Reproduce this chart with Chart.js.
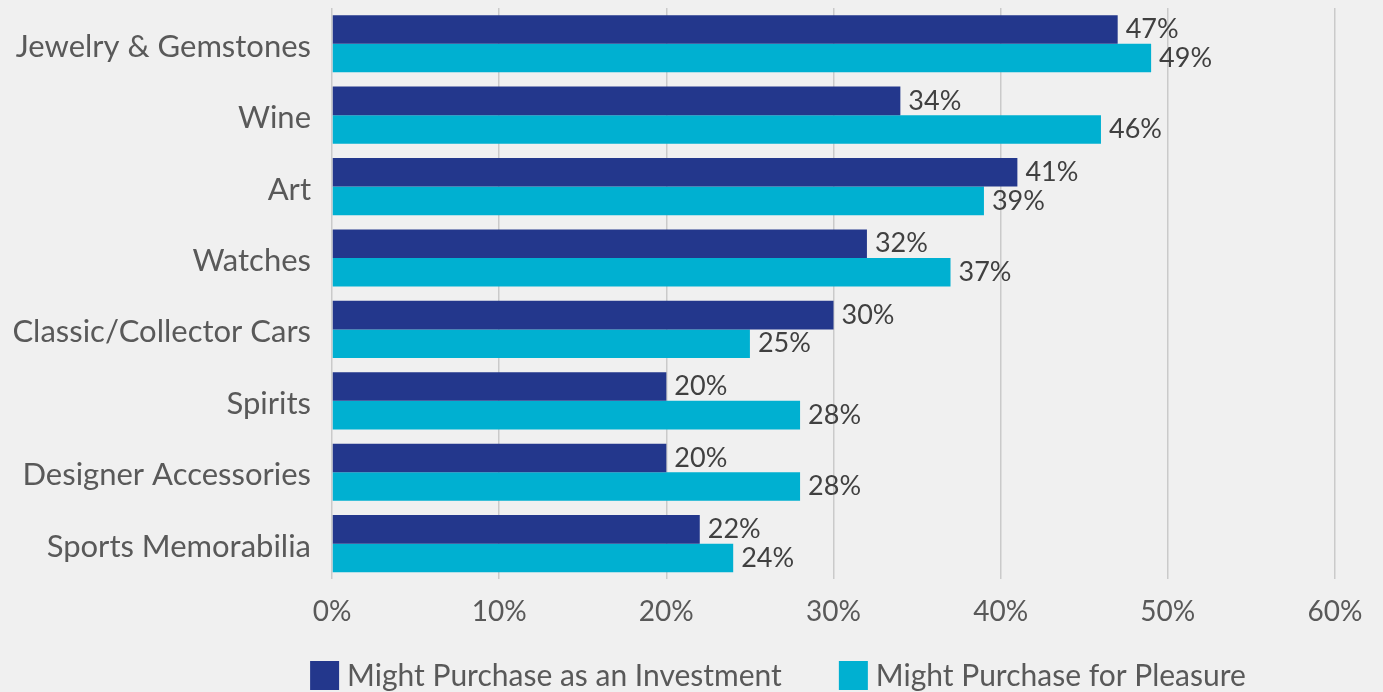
<!DOCTYPE html>
<html>
<head>
    <title>Purchase Intent</title>
    <style>
        * { margin: 0; padding: 0; box-sizing: border-box; }
        body { background: #f0f0f0; font-family: Lato, sans-serif; }
        .wrap { width: 1383px; height: 692px; position: relative; }
    </style>
</head>
<body>
    <div class="wrap">
        <canvas id="purchaseChart"></canvas>
    </div>
    <script src="https://cdn.jsdelivr.net/npm/chart.js"></script>
    <script>
        // dados
        var categories = ['Jewelry & Gemstones', 'Wine', 'Art', 'Watches', 'Classic/Collector Cars', 'Spirits', 'Designer Accessories', 'Sports Memorabilia'];
        var investment = [47, 34, 41, 32, 30, 20, 20, 22];
        var pleasure = [49, 46, 39, 37, 25, 28, 28, 24];
        var seriesNames = ['Might Purchase as an Investment', 'Might Purchase for Pleasure'];
        var xTicks = [0, 10, 20, 30, 40, 50, 60];

        var navy = '#23378c';
        var cyan = '#00b0d1';

        // rótulos de valor à direita das barras
        var barLabels = {
            id: 'barLabels',
            afterDatasetsDraw: function (chart) {
                var ctx = chart.ctx;
                ctx.save();
                ctx.font = '27px Lato';
                ctx.fillStyle = '#404040';
                ctx.textAlign = 'left';
                ctx.textBaseline = 'middle';
                chart.data.datasets.forEach(function (ds, i) {
                    chart.getDatasetMeta(i).data.forEach(function (bar, j) {
                        ctx.fillText(ds.data[j] + '%', bar.x + 8, bar.y);
                    });
                });
                ctx.restore();
            }
        };

        // legenda embaixo
        var bottomLegend = {
            id: 'bottomLegend',
            afterDraw: function (chart) {
                var ctx = chart.ctx;
                var box = 29, gap = 8, itemGap = 57;
                ctx.save();
                ctx.font = '30px Lato';
                var items = chart.data.datasets.map(function (ds) {
                    return { text: ds.label, color: ds.backgroundColor, w: box + gap + ctx.measureText(ds.label).width };
                });
                var total = items.reduce(function (s, it) { return s + it.w; }, 0) + itemGap * (items.length - 1);
                var x = 778 - total / 2;
                var y = 675;
                ctx.textBaseline = 'middle';
                ctx.textAlign = 'left';
                items.forEach(function (it) {
                    ctx.fillStyle = it.color;
                    ctx.fillRect(x, y - 14, box, 29);
                    ctx.fillStyle = '#595959';
                    ctx.fillText(it.text, x + box + gap, y + 1);
                    x += it.w + itemGap;
                });
                ctx.restore();
            }
        };

        var ctx = document.getElementById('purchaseChart').getContext('2d');
        var chart = new Chart(ctx, {
            type: 'bar',
            data: {
                labels: categories,
                datasets: [{
                    label: seriesNames[0],
                    data: investment,
                    backgroundColor: navy
                }, {
                    label: seriesNames[1],
                    data: pleasure,
                    backgroundColor: cyan
                }]
            },
            options: {
                indexAxis: 'y',
                responsive: true,
                maintainAspectRatio: false,
                animation: false,
                datasets: {
                    bar: { categoryPercentage: 0.8, barPercentage: 1.0 }
                },
                layout: {
                    padding: { top: 8, right: 48, bottom: 47, left: 0 }
                },
                plugins: {
                    legend: { display: false },
                    tooltip: { enabled: false }
                },
                scales: {
                    x: {
                        min: xTicks[0],
                        max: xTicks[xTicks.length - 1],
                        afterBuildTicks: function (scale) {
                            scale.ticks = xTicks.map(function (v) { return { value: v }; });
                        },
                        grid: { color: '#cacaca', lineWidth: 1.5, drawTicks: false },
                        border: { display: false },
                        ticks: {
                            padding: 16,
                            color: '#595959',
                            font: { family: 'Lato', size: 28 },
                            callback: function (v) { return v + '%'; }
                        }
                    },
                    y: {
                        grid: { display: false, drawTicks: false },
                        border: { display: false },
                        afterFit: function (scale) {
                            scale.width = 332;
                            scale.paddingTop = 0;
                            scale.paddingBottom = 0;
                        },
                        ticks: {
                            padding: 21,
                            labelOffset: 3,
                            color: '#595959',
                            font: { family: 'Lato', size: 31 }
                        }
                    }
                }
            },
            plugins: [barLabels, bottomLegend]
        });
    </script>
</body>
</html>
